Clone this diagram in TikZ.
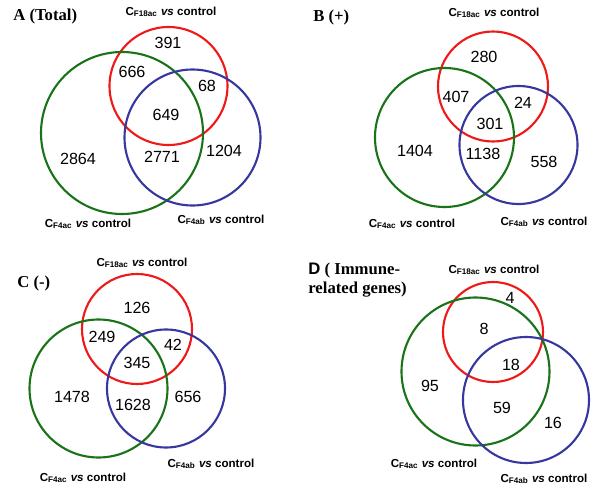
\documentclass[tikz,border=0pt]{standalone}
\usepackage{fontspec}
\setmainfont{Liberation Serif}
\setsansfont{Liberation Sans}
\usetikzlibrary{positioning}
\definecolor{setR}{RGB}{240,25,25}
\definecolor{setG}{RGB}{25,115,25}
\definecolor{setB}{RGB}{55,55,160}
\newcommand{\cmpl}[1]{C\textsubscript{#1} \textit{vs} control}
\tikzset{
  vset/.style  ={line width=1.2pt},
  vR/.style    ={vset, draw=setR},
  vG/.style    ={vset, draw=setG},
  vB/.style    ={vset, draw=setB},
  cnt/.style   ={font=\sffamily\fontsize{9.2}{10}\selectfont, inner sep=0pt},
  cmp/.style   ={font=\sffamily\bfseries\fontsize{6.6}{7}\selectfont,
                 anchor=base, inner sep=0pt},
  panel/.style ={font=\rmfamily\bfseries\fontsize{9.5}{10.8}\selectfont,
                 anchor=base west, inner sep=0pt},
}
\begin{document}
\begin{tikzpicture}[x=0.02cm, y=0.02cm]
\useasboundingbox (0,0) rectangle (600,-501);

% A (Total)
\node[panel] (tA) at (13,-20) {A (Total)};
\draw[vR] (168.5,-86) circle[radius=59];
\draw[vG] (122,-133) circle[radius=81];
\draw[vB] (192.5,-137.5) circle[radius=68];
\node[cmp] (aR) at (171,-15) {\cmpl{F18ac}};
\node[cmp] (aG) at (88,-227) {\cmpl{F4ac}};
\node[cmp] (aB) at (221,-223) {\cmpl{F4ab}};
\foreach \x/\y/\n in {168/43/391, 132/72/666, 207/86/68, 166/115/649,
                      78/159/2864, 162/157/2771, 224/151/1204}
  \node[cnt] (nA\n) at (\x,-\y) {\n};

% B (+)
\node[panel] (tB) at (313,-21) {B (+)};
\draw[vR] (493,-86.5) circle[radius=55];
\draw[vG] (444.5,-137.5) circle[radius=69.5];
\draw[vB] (518.5,-145) circle[radius=59];
\node[cmp] (bR) at (494,-16) {\cmpl{F18ac}};
\node[cmp] (bG) at (412,-227) {\cmpl{F4ac}};
\node[cmp] (bB) at (544,-225) {\cmpl{F4ab}};
\foreach \x/\y/\n in {484/57/280, 456/97/407, 523/103/24, 490/124/301,
                      415/151/1404, 483/154/1138, 544/162/558}
  \node[cnt] (nB\n) at (\x,-\y) {\n};

% C (-)
\node[panel] (tC) at (17,-287) {C (-)};
\draw[vR] (137,-329) circle[radius=55];
\draw[vG] (98.5,-388.5) circle[radius=69];
\draw[vB] (166,-388.5) circle[radius=59];
\node[cmp] (cR) at (142,-266) {\cmpl{F18ac}};
\node[cmp] (cG) at (83,-481) {\cmpl{F4ac}};
\node[cmp] (cB) at (211,-467) {\cmpl{F4ab}};
\foreach \x/\y/\n in {137/308/126, 102/337/249, 173/345/42, 137/363/345,
                      72/397/1478, 133/405/1628, 188/397/656}
  \node[cnt] (nC\n) at (\x,-\y) {\n};

% D (immune-related)
\node[panel, align=left, anchor=base west] (tD) at (308,-293)
  {\sffamily D\rmfamily{} ( Immune-\\related genes)};
\draw[vR] (493,-332) circle[radius=50];
\draw[vG] (475.5,-371.5) circle[radius=74];
\draw[vB] (526,-400) circle[radius=63];
\node[cmp] (dR) at (494,-273) {\cmpl{F18ac}};
\node[cmp] (dG) at (434,-467) {\cmpl{F4ac}};
\node[cmp] (dB) at (544,-482) {\cmpl{F4ab}};
\foreach \x/\y/\n in {510/298/4, 484/329/8, 511/365/18, 430/386/95,
                      502/408/59, 553/423/16}
  \node[cnt] (nD\n) at (\x,-\y) {\n};

\end{tikzpicture}
\end{document}
